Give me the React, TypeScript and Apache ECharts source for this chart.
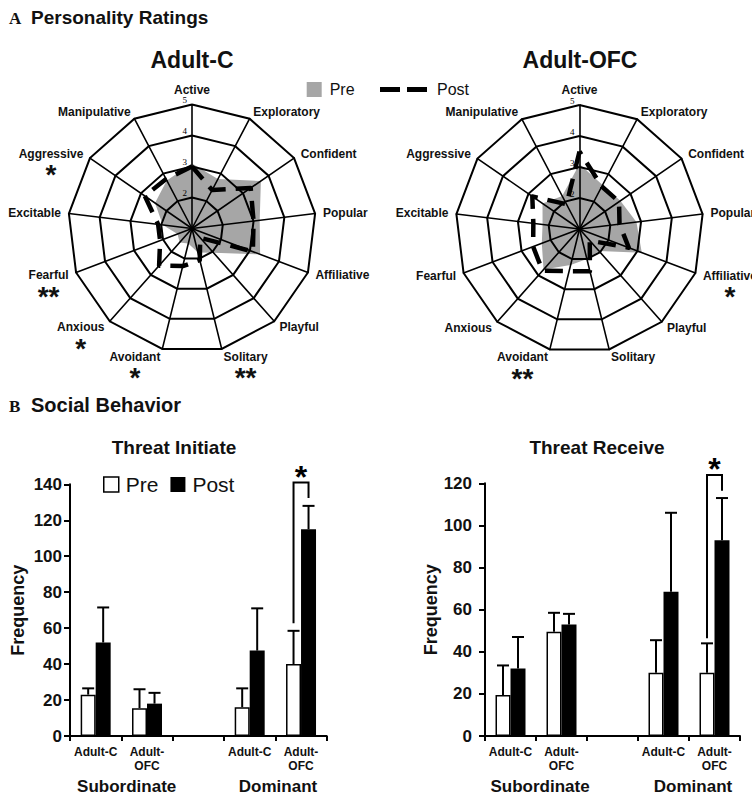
import React, { useEffect, useRef } from 'react';
import * as echarts from 'echarts';

const SANS = '"Liberation Sans", Arial, Helvetica, sans-serif';
const SERIF = '"Liberation Serif", "Times New Roman", serif';

// ---- Personality ratings (radar), listed clockwise from the top ----
const traits = ['Active', 'Exploratory', 'Confident', 'Popular', 'Affiliative', 'Playful', 'Solitary', 'Avoidant', 'Anxious', 'Fearful', 'Excitable', 'Aggressive', 'Manipulative'];
const adultCPre = [3.1, 2.8, 3.7, 3.2, 3.35, 2.05, 1.8, 1.5, 1.6, 1.5, 1.95, 2.45, 2.75];
const adultCPost = [3.0, 2.4, 3.3, 3.0, 3.1, 1.4, 2.05, 2.25, 2.6, 2.1, 2.1, 2.85, 2.8];
const adultOFCPre = [3.1, 2.6, 2.6, 2.85, 3.15, 1.95, 2.0, 2.2, 2.75, 2.3, 2.2, 2.45, 2.2];
const adultOFCPost = [3.5, 2.55, 2.55, 2.3, 2.7, 1.5, 2.4, 2.4, 2.8, 2.6, 2.5, 2.85, 1.9];
const adultCStars: Record<string, string> = { Aggressive: '*', Fearful: '**', Anxious: '*', Avoidant: '*', Solitary: '**' };
const adultOFCStars: Record<string, string> = { Affiliative: '*', Avoidant: '**' };
const ratingMin = 1;
const ratingMax = 5;

// ---- Social behaviour (bars) ----
const barCats = ['Adult-C', 'Adult-\nOFC', '', 'Adult-C', 'Adult-\nOFC'];
const initiatePre = [23, 15.5, null, 16, 40];
const initiatePreErr = [3.5, 10.5, null, 10.5, 18.5];
const initiatePost = [52, 18, null, 47.5, 115];
const initiatePostErr = [19.5, 6, null, 23.5, 13];
const receivePre = [19.5, 49.5, null, 30, 30];
const receivePreErr = [14, 9, null, 15.5, 14];
const receivePost = [32, 53, null, 68.5, 93];
const receivePostErr = [15, 5, null, 37.5, 20];
// [category, pre-side start, bracket top, post-side end]
const initiateSig = [4, 62.7, 141, 132.4];
const receiveSig = [4, 46.4, 124, 116.5];

const BAR_W = 15;

// ECharts lays radar indicators counter-clockwise; reorder so the picture reads clockwise
const order = [0, 12, 11, 10, 9, 8, 7, 6, 5, 4, 3, 2, 1];
const reorder = (arr: any[]) => order.map((k) => arr[k]);

function makeRadar(center: number[], stars: Record<string, string>) {
  return {
    center,
    radius: 124,
    startAngle: 90,
    splitNumber: 4,
    shape: 'polygon',
    z: 2,
    nameGap: 8,
    indicator: order.map((k, j) => ({
      name: traits[k],
      min: ratingMin,
      max: ratingMax,
      axisLabel: { show: j === 0 },
    })),
    axisName: {
      color: '#111',
      fontSize: 12,
      fontWeight: 'bold',
      fontFamily: SANS,
      formatter: (name: string) => {
        const s = stars[name];
        return s ? `{e| }\n{n|${name}}\n{s|${s}}` : `{n|${name}}`;
      },
      rich: {
        n: { fontSize: 12, fontWeight: 'bold', color: '#111', fontFamily: SANS, lineHeight: 14 },
        e: { fontSize: 12, lineHeight: 28 },
        s: { fontSize: 28, fontWeight: 'bold', color: '#111', fontFamily: SANS, lineHeight: 28, align: 'center' },
      },
    },
    axisLine: { lineStyle: { color: '#000', width: 1.6 } },
    splitLine: { lineStyle: { color: '#000', width: 2 } },
    splitArea: { show: false },
    axisTick: { show: false },
    axisLabel: {
      show: false,
      fontSize: 9,
      color: '#000',
      fontFamily: SERIF,
      margin: 5,
      verticalAlign: 'bottom',
      formatter: (v: number) => (v === ratingMin ? '' : String(v)),
    },
  };
}

function errorSeries(xIdx: number, pre: any[], preErr: any[], post: any[], postErr: any[]) {
  const rows: number[][] = [];
  pre.forEach((v, i) => { if (v != null) rows.push([i, v, preErr[i], -1]); });
  post.forEach((v, i) => { if (v != null) rows.push([i, v, postErr[i], 1]); });
  return {
    type: 'custom',
    xAxisIndex: xIdx,
    yAxisIndex: xIdx,
    z: 4,
    silent: true,
    encode: { x: 0, y: 1 },
    data: rows,
    renderItem: (params: any, api: any) => {
      const c = api.value(0);
      const v = api.value(1);
      const e = api.value(2);
      const side = api.value(3);
      const base = api.coord([c, v]);
      const top = api.coord([c, v + e]);
      const x = base[0] + (side * BAR_W) / 2;
      return {
        type: 'group',
        children: [
          { type: 'line', shape: { x1: x, y1: base[1], x2: x, y2: top[1] }, style: { stroke: '#000', lineWidth: 2 } },
          { type: 'line', shape: { x1: x - 6, y1: top[1], x2: x + 6, y2: top[1] }, style: { stroke: '#000', lineWidth: 2 } },
        ],
      };
    },
  };
}

function sigSeries(xIdx: number, sig: number[]) {
  return {
    type: 'custom',
    xAxisIndex: xIdx,
    yAxisIndex: xIdx,
    z: 5,
    silent: true,
    encode: { x: 0, y: 2 },
    data: [sig],
    renderItem: (params: any, api: any) => {
      const c = api.value(0);
      const s = api.coord([c, api.value(1)]);
      const t = api.coord([c, api.value(2)]);
      const e = api.coord([c, api.value(3)]);
      const x1 = s[0] - BAR_W / 2;
      const x2 = s[0] + BAR_W / 2;
      return {
        type: 'group',
        children: [
          {
            type: 'polyline',
            shape: { points: [[x1, s[1]], [x1, t[1]], [x2, t[1]], [x2, e[1]]] },
            style: { stroke: '#000', lineWidth: 2, fill: null },
          },
          {
            type: 'text',
            x: s[0],
            y: t[1] - 6,
            style: { text: '*', fontSize: 32, fontWeight: 'bold', fontFamily: SANS, fill: '#000', align: 'center', verticalAlign: 'middle' },
          },
        ],
      };
    },
  };
}

function xAxisFor(idx: number) {
  return {
    type: 'category',
    gridIndex: idx,
    data: barCats,
    axisLine: { lineStyle: { color: '#000', width: 2 } },
    axisTick: { show: true, interval: 0, length: 5, lineStyle: { color: '#000', width: 2 } },
    axisLabel: { interval: 0, fontSize: 12, fontWeight: 'bold', fontFamily: SANS, color: '#111', lineHeight: 14, margin: 9 },
    splitLine: { show: false },
  };
}

function textEl(text: string, x: number, y: number, size: number, align = 'left', family = SANS) {
  return {
    type: 'text',
    x,
    y,
    silent: true,
    style: { text, fontSize: size, fontWeight: 'bold', fontFamily: family, fill: '#111', align, verticalAlign: 'middle' },
  };
}

export default function App() {
  const ref = useRef<HTMLDivElement>(null);

  useEffect(() => {
    if (!ref.current) return;
    const chart = echarts.init(ref.current, null, { renderer: 'svg' });

    const yAxisFor = (idx: number, max: number, margin: number) => ({
      type: 'value',
      gridIndex: idx,
      min: 0,
      max,
      interval: 20,
      name: 'Frequency',
      nameLocation: 'middle',
      nameRotate: 90,
      nameGap: 43,
      nameTextStyle: { fontSize: 18, fontWeight: 'bold', fontFamily: SANS, color: '#111' },
      axisLine: { show: true, lineStyle: { color: '#000', width: 2 } },
      axisTick: { show: true, length: 6, lineStyle: { color: '#000', width: 2 } },
      axisLabel: { fontSize: 17, fontWeight: 'bold', fontFamily: SANS, color: '#111', margin },
      splitLine: { show: false },
    });

    const option: any = {
      animation: false,
      backgroundColor: '#fff',
      radar: [makeRadar([192, 228.5], adultCStars), makeRadar([579.5, 229], adultOFCStars)],
      grid: [
        { left: 70, top: 484.3, width: 256.7, height: 251.7 },
        { left: 485, top: 483.3, width: 255, height: 252.7 },
      ],
      xAxis: [xAxisFor(0), xAxisFor(1)],
      yAxis: [yAxisFor(0, 140, 8), yAxisFor(1, 120, 13)],
      legend: [
        {
          left: 306.7, top: 81.5, padding: 0, selectedMode: false,
          itemWidth: 15, itemHeight: 15,
          textStyle: { fontSize: 16, fontFamily: SANS, color: '#111', padding: [0, 0, 0, 3] },
          data: [{ name: 'Pre', icon: 'rect', itemStyle: { color: '#a6a6a6', borderWidth: 0 } }],
        },
        {
          left: 380, top: 81.5, padding: 0, selectedMode: false,
          itemWidth: 47, itemHeight: 5,
          textStyle: { fontSize: 16, fontFamily: SANS, color: '#111', padding: [0, 0, 0, 5] },
          data: [{ name: 'Post', icon: 'path://M0,0H20V5H0Z M27,0H47V5H27Z', itemStyle: { color: '#000', borderWidth: 0 }, lineStyle: { width: 0 } }],
        },
        {
          left: 103, top: 474, padding: 0, selectedMode: false,
          itemWidth: 15, itemHeight: 15, itemGap: 12,
          textStyle: { fontSize: 21, fontFamily: SANS, color: '#111', padding: [0, 0, 0, 2] },
          data: [
            { name: 'Pre', icon: 'rect', itemStyle: { color: '#fff', borderColor: '#000', borderWidth: 1.5 } },
            { name: 'Post', icon: 'rect', itemStyle: { color: '#000', borderWidth: 0 } },
          ],
        },
      ],
      series: [
        {
          type: 'radar', radarIndex: 0, z: 1, symbol: 'none', silent: true,
          data: [{ name: 'Pre', value: reorder(adultCPre), areaStyle: { color: '#a6a6a6', opacity: 1 }, lineStyle: { width: 0, color: '#a6a6a6' }, itemStyle: { color: '#a6a6a6' } }],
        },
        {
          type: 'radar', radarIndex: 0, z: 3, symbol: 'none', silent: true,
          data: [{ name: 'Post', value: reorder(adultCPost), lineStyle: { color: '#000', width: 4.5, type: [18, 10] }, itemStyle: { color: '#000' } }],
        },
        {
          type: 'radar', radarIndex: 1, z: 1, symbol: 'none', silent: true,
          data: [{ name: 'Pre', value: reorder(adultOFCPre), areaStyle: { color: '#a6a6a6', opacity: 1 }, lineStyle: { width: 0, color: '#a6a6a6' }, itemStyle: { color: '#a6a6a6' } }],
        },
        {
          type: 'radar', radarIndex: 1, z: 3, symbol: 'none', silent: true,
          data: [{ name: 'Post', value: reorder(adultOFCPost), lineStyle: { color: '#000', width: 4.5, type: [18, 10] }, itemStyle: { color: '#000' } }],
        },
        {
          name: 'Pre', type: 'bar', xAxisIndex: 0, yAxisIndex: 0, barWidth: BAR_W, barGap: '0%', silent: true,
          itemStyle: { color: '#fff', borderColor: '#000', borderWidth: 1.5 },
          data: initiatePre.map((v) => (v == null ? '-' : v)),
        },
        {
          name: 'Post', type: 'bar', xAxisIndex: 0, yAxisIndex: 0, barWidth: BAR_W, barGap: '0%', silent: true,
          itemStyle: { color: '#000' },
          data: initiatePost.map((v) => (v == null ? '-' : v)),
        },
        {
          name: 'Pre', type: 'bar', xAxisIndex: 1, yAxisIndex: 1, barWidth: BAR_W, barGap: '0%', silent: true,
          itemStyle: { color: '#fff', borderColor: '#000', borderWidth: 1.5 },
          data: receivePre.map((v) => (v == null ? '-' : v)),
        },
        {
          name: 'Post', type: 'bar', xAxisIndex: 1, yAxisIndex: 1, barWidth: BAR_W, barGap: '0%', silent: true,
          itemStyle: { color: '#000' },
          data: receivePost.map((v) => (v == null ? '-' : v)),
        },
        errorSeries(0, initiatePre, initiatePreErr, initiatePost, initiatePostErr),
        errorSeries(1, receivePre, receivePreErr, receivePost, receivePostErr),
        sigSeries(0, initiateSig),
        sigSeries(1, receiveSig),
      ],
      graphic: [
        textEl('A', 9, 18, 17, 'left', SERIF),
        textEl('Personality Ratings', 31, 17, 19),
        textEl('Adult-C', 192, 60, 23, 'center'),
        textEl('Adult-OFC', 580, 60, 23, 'center'),
        textEl('B', 9, 406, 17, 'left', SERIF),
        textEl('Social Behavior', 31, 405, 20),
        textEl('Threat Initiate', 174, 447, 19, 'center'),
        textEl('Threat Receive', 597, 447, 19, 'center'),
        textEl('Subordinate', 126.7, 786, 17, 'center'),
        textEl('Dominant', 278, 786, 17, 'center'),
        textEl('Subordinate', 540, 786, 17, 'center'),
        textEl('Dominant', 693, 786, 17, 'center'),
      ],
    };

    chart.setOption(option);
    return () => chart.dispose();
  }, []);

  return (
    <div
      ref={ref}
      style={{ position: 'absolute', left: 0, top: 0, width: 752, height: 797, background: '#fff' }}
    />
  );
}
